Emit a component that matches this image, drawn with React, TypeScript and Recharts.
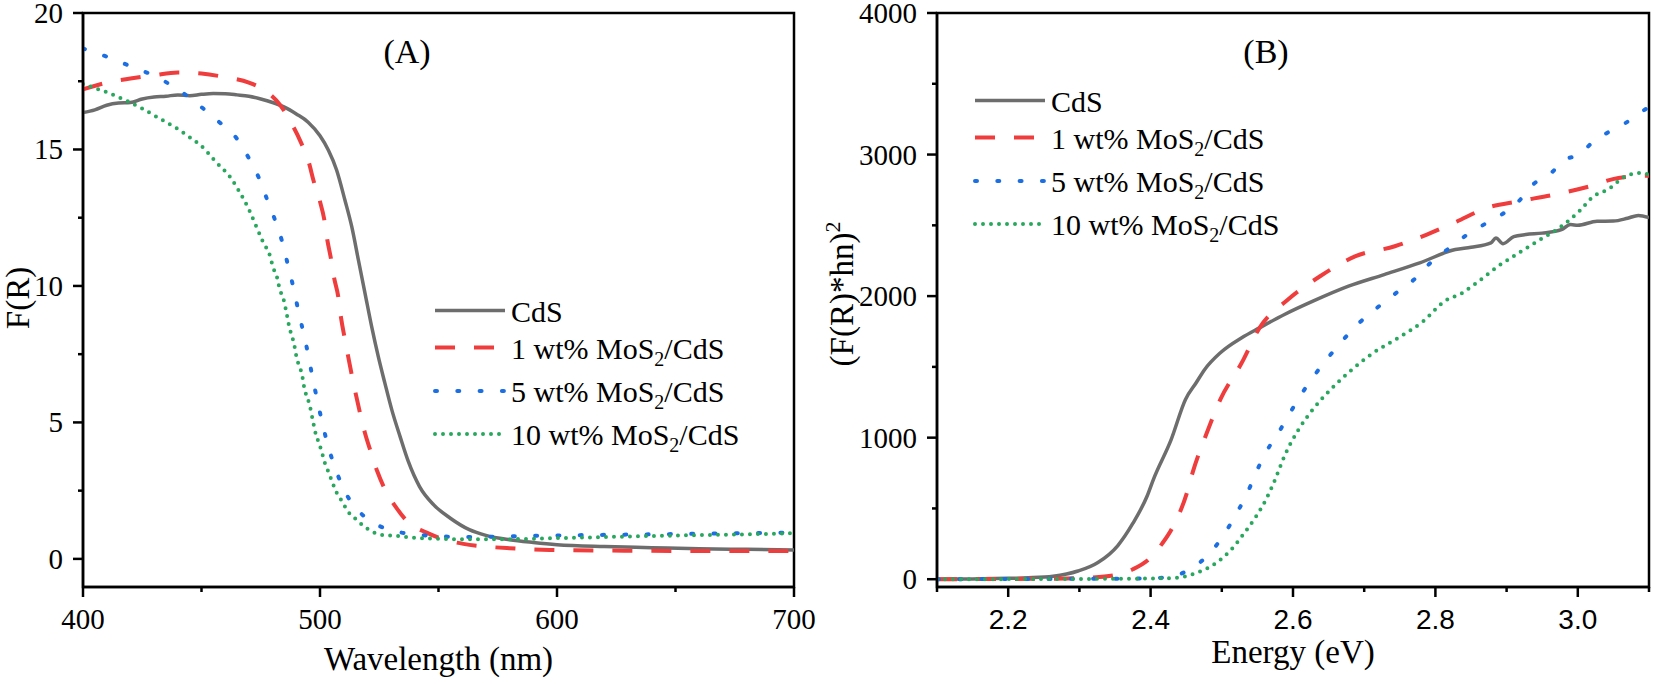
import React from "react";
import { LineChart, Line, XAxis, YAxis, ReferenceArea, Label, Legend } from "recharts";

const SERIF = '"Liberation Serif", "Times New Roman", serif';
const SANS = '"Liberation Sans", Arial, sans-serif';

// ---- (A) F(R) vs wavelength ----
const wlMajor = [400, 500, 600, 700];
const wlMinor = [450, 550, 650];
const frMajor = [0, 5, 10, 15, 20];
const frMinor = [2.5, 7.5, 12.5, 17.5];

const cdsA = [
  [400, 16.35], [405, 16.45], [410, 16.62], [415, 16.7], [420, 16.72], [425, 16.85],
  [430, 16.92], [435, 16.95], [440, 17.0], [445, 16.97], [450, 17.02], [455, 17.05],
  [460, 17.04], [465, 17.0], [470, 16.95], [475, 16.85], [480, 16.72], [485, 16.55],
  [490, 16.3], [495, 16.0], [500, 15.5], [503.5, 14.98], [507, 14.25], [510.5, 13.15],
  [513.4, 12.17], [516.2, 10.95], [519, 9.73], [521.8, 8.51], [524.6, 7.41], [527.4, 6.43],
  [530.3, 5.46], [533.8, 4.48], [537.3, 3.56], [542, 2.65], [548, 1.98], [555, 1.49],
  [563, 1.07], [570, 0.86], [580, 0.7], [590, 0.6], [600, 0.52], [620, 0.45],
  [640, 0.41], [660, 0.37], [680, 0.35], [700, 0.33],
];
const mos1A = [
  [400, 17.2], [410, 17.45], [420, 17.6], [430, 17.72], [440, 17.82], [450, 17.78],
  [460, 17.65], [470, 17.45], [477, 17.15], [483, 16.65], [488, 15.95], [492, 15.25],
  [495.4, 14.49], [497.2, 13.88], [500, 13.09], [501.7, 12.48], [503.1, 11.68], [504.6, 11.01],
  [506, 10.28], [507.7, 9.61], [508.9, 8.82], [510.3, 8.14], [511.9, 7.41], [513.4, 6.74],
  [515.2, 6.0], [516.9, 5.34], [519, 4.6], [521.4, 3.93], [524.2, 3.2], [527.4, 2.55],
  [532.1, 1.89], [537.3, 1.33], [545, 0.96], [550.6, 0.76], [560.5, 0.55], [570, 0.45],
  [580, 0.39], [597, 0.33], [630, 0.3], [660, 0.29], [700, 0.29],
];
const mos5A = [
  [400, 18.7], [410, 18.4], [420, 18.05], [430, 17.7], [440, 17.2], [450, 16.55],
  [457.8, 15.98], [464.8, 15.41], [469.6, 14.74], [474, 14.0], [477.5, 13.21], [481, 12.42],
  [484.1, 11.6], [486.4, 10.79], [488.7, 9.97], [490.8, 9.12], [493, 8.29], [495.1, 7.45],
  [496.9, 6.62], [499, 5.76], [501.1, 4.93], [503.5, 4.11], [506.6, 3.28], [510.5, 2.47],
  [516.6, 1.73], [523.6, 1.27], [532.4, 1.0], [542.2, 0.88], [552, 0.82], [562, 0.8],
  [580, 0.83], [600, 0.86], [620, 0.88], [640, 0.9], [660, 0.92], [680, 0.94], [700, 0.97],
];
const mos10A = [
  [400, 17.4], [405, 17.25], [410, 17.1], [418, 16.8], [425, 16.5], [432, 16.15],
  [440, 15.75], [445, 15.45], [451, 15.04], [456, 14.55], [462, 14.0], [466, 13.45],
  [470, 12.8], [473, 12.2], [476, 11.6], [478.9, 11.1], [480.3, 10.65], [481.7, 10.37],
  [483.1, 9.85], [484.5, 9.55], [485.9, 9.0], [487, 8.51], [488, 8.2], [489, 7.9],
  [490.2, 7.35], [491.3, 7.05], [492.3, 6.8], [493.4, 6.25], [494.4, 5.95], [495.5, 5.68],
  [496.8, 5.15], [498.2, 4.58], [499.3, 4.3], [500.4, 4.02], [502.1, 3.5], [503.5, 3.2],
  [504.6, 2.95], [507, 2.43], [508.9, 2.16], [512.4, 1.67], [515.2, 1.45], [519.7, 1.12],
  [526, 0.88], [532.4, 0.84], [539.4, 0.78], [549.2, 0.74], [559, 0.72], [575, 0.72],
  [600, 0.76], [620, 0.8], [640, 0.84], [660, 0.87], [680, 0.9], [700, 0.94],
];

// ---- (B) (F(R)*hn)^2 vs energy ----
const evMajor = [2.2, 2.4, 2.6, 2.8, 3.0];
const evMinor = [2.1, 2.3, 2.5, 2.7, 2.9, 3.1];
const sqMajor = [0, 1000, 2000, 3000, 4000];
const sqMinor = [500, 1500, 2500, 3500];

const cdsB = [
  [2.1, 0], [2.15, 2], [2.2, 6], [2.228, 10], [2.263, 21], [2.298, 58], [2.326, 118],
  [2.354, 238], [2.375, 394], [2.395, 586], [2.404, 706], [2.429, 988], [2.449, 1270],
  [2.464, 1388], [2.476, 1482], [2.498, 1600], [2.528, 1706], [2.553, 1776], [2.588, 1870],
  [2.628, 1964], [2.678, 2070], [2.728, 2152], [2.778, 2235], [2.828, 2329], [2.85, 2345],
  [2.878, 2376], [2.885, 2410], [2.895, 2370], [2.91, 2420], [2.927, 2435], [2.95, 2445],
  [2.977, 2470], [2.99, 2505], [3.0, 2500], [3.027, 2529], [3.05, 2530], [3.07, 2550],
  [3.085, 2570], [3.1, 2555],
];
const mos1B = [
  [2.1, 0], [2.2, 2], [2.28, 5], [2.312, 10], [2.347, 26], [2.375, 70], [2.395, 130],
  [2.416, 250], [2.43, 358], [2.451, 610], [2.459, 753], [2.479, 1035], [2.498, 1270],
  [2.528, 1529], [2.553, 1776], [2.593, 1976], [2.638, 2140], [2.688, 2282], [2.743, 2352],
  [2.788, 2435], [2.828, 2522], [2.872, 2623], [2.917, 2670], [2.967, 2717], [3.017, 2776],
  [3.057, 2835], [3.1, 2851],
];
const mos5B = [
  [2.1, 0], [2.3, 3], [2.395, 5], [2.43, 21], [2.458, 78], [2.482, 178], [2.503, 315],
  [2.52, 459], [2.536, 610], [2.548, 753], [2.563, 905], [2.581, 1047], [2.596, 1176],
  [2.613, 1317], [2.631, 1447], [2.651, 1576], [2.671, 1694], [2.693, 1811], [2.718, 1917],
  [2.745, 2023], [2.77, 2117], [2.793, 2235], [2.82, 2341], [2.845, 2435], [2.868, 2505],
  [2.893, 2576], [2.917, 2670], [2.937, 2788], [2.96, 2858], [2.982, 2964], [3.002, 2999],
  [3.022, 3093], [3.045, 3164], [3.067, 3223], [3.094, 3317], [3.1, 3335],
];
const mos10B = [
  [2.1, 0], [2.3, 2], [2.4, 5], [2.437, 10], [2.465, 46], [2.493, 118], [2.514, 214],
  [2.531, 322], [2.548, 442], [2.562, 562], [2.575, 706], [2.588, 870], [2.608, 1059],
  [2.628, 1200], [2.653, 1341], [2.683, 1482], [2.713, 1600], [2.748, 1706], [2.783, 1823],
  [2.813, 1964], [2.838, 2023], [2.858, 2094], [2.888, 2211], [2.917, 2305], [2.947, 2399],
  [2.977, 2493], [3.002, 2599], [3.022, 2705], [3.042, 2752], [3.067, 2846], [3.087, 2870],
  [3.1, 2858],
];

const seriesNames = ["CdS", "1 wt% MoS2/CdS", "5 wt% MoS2/CdS", "10 wt% MoS2/CdS"];

const lineStyles = [
  { stroke: "#6d6d6d", width: 3.5, dash: undefined, cap: "butt" },
  { stroke: "#ef3d3d", width: 4, dash: "20 19", cap: "butt" },
  { stroke: "#1c6fe3", width: 4, dash: "2 20.3", cap: "round" },
  { stroke: "#2aa75e", width: 4, dash: "0 8", cap: "round" },
];

const toPts = (rows: number[][]) => rows.map(([x, y]) => ({ x, y }));
const isMajor = (majors: number[], v: number) => majors.some((m) => Math.abs(m - v) < 1e-6);

// chemical formula with subscript 2
function renderName(name: string, subSize: number) {
  const i = name.indexOf("MoS2");
  if (i < 0) return name;
  return (
    <>
      {name.slice(0, i + 3)}
      <tspan fontSize={subSize} dy={7}>2</tspan>
      <tspan dy={-7}>{name.slice(i + 4)}</tspan>
    </>
  );
}

function makeXTick(majors: number[], fmt: (v: number) => string, font: string, size: number) {
  return (props: any) => {
    const { x, y, payload } = props;
    const major = isMajor(majors, payload.value);
    return (
      <g>
        <line x1={x} x2={x} y1={y} y2={y + (major ? 10 : 5)} stroke="#000" strokeWidth={2.5} />
        {major && (
          <text x={x} y={y + 42} textAnchor="middle" fontFamily={font} fontSize={size} fill="#000">
            {fmt(payload.value)}
          </text>
        )}
      </g>
    );
  };
}

function makeYTick(majors: number[]) {
  return (props: any) => {
    const { x, y, payload } = props;
    const major = isMajor(majors, payload.value);
    return (
      <g>
        <line x1={x} x2={x - (major ? 10 : 5)} y1={y} y2={y} stroke="#000" strokeWidth={2.5} />
        {major && (
          <text x={x - 20} y={y + 10} textAnchor="end" fontFamily={SERIF} fontSize={29} fill="#000">
            {payload.value}
          </text>
        )}
      </g>
    );
  };
}

function makeLegend(lineX: number) {
  const rows = [30.5, 67.5, 111, 154];
  return () => (
    <svg width={400} height={190} style={{ overflow: "visible" }}>
      {seriesNames.map((name, i) => {
        const s = lineStyles[i];
        return (
          <g key={name}>
            <line
              x1={lineX}
              x2={lineX + 70}
              y1={rows[i]}
              y2={rows[i]}
              stroke={s.stroke}
              strokeWidth={s.width}
              strokeDasharray={s.dash}
              strokeLinecap={s.cap as any}
            />
            <text x={lineX + 76} y={rows[i] + 11} fontFamily={SERIF} fontSize={30} fill="#000">
              {renderName(name, 20)}
            </text>
          </g>
        );
      })}
    </svg>
  );
}

function seriesLines(sets: number[][][]) {
  return sets.map((rows, i) => {
    const s = lineStyles[i];
    return (
      <Line
        key={seriesNames[i]}
        data={toPts(rows)}
        dataKey="y"
        name={seriesNames[i]}
        type="monotone"
        stroke={s.stroke}
        strokeWidth={s.width}
        strokeDasharray={s.dash}
        strokeLinecap={s.cap as any}
        dot={false}
        activeDot={false}
        isAnimationActive={false}
      />
    );
  });
}

function PanelA() {
  return (
    <LineChart width={830} height={684} margin={{ top: 13, right: 36, left: 0, bottom: 0 }}>
      <XAxis
        type="number"
        dataKey="x"
        domain={[400, 700]}
        ticks={[...wlMajor, ...wlMinor].sort((a, b) => a - b)}
        interval={0}
        allowDataOverflow
        height={97}
        tickSize={0}
        tickMargin={0}
        tickLine={false}
        axisLine={{ stroke: "#000", strokeWidth: 2.5 }}
        tick={makeXTick(wlMajor, (v) => String(v), SERIF, 29)}
      >
        <Label
          content={(p: any) => (
            <text x={p.viewBox.x + p.viewBox.width / 2} y={p.viewBox.y + 83} textAnchor="middle" fontFamily={SERIF} fontSize={33} fill="#000">
              Wavelength (nm)
            </text>
          )}
        />
      </XAxis>
      <YAxis
        type="number"
        domain={[-1.03, 20]}
        ticks={[...frMajor, ...frMinor].sort((a, b) => a - b)}
        interval={0}
        allowDataOverflow
        width={83}
        tickSize={0}
        tickMargin={0}
        tickLine={false}
        axisLine={{ stroke: "#000", strokeWidth: 2.5 }}
        tick={makeYTick(frMajor)}
      >
        <Label
          content={() => (
            <text x={29} y={298} transform="rotate(-90 29 298)" textAnchor="middle" fontFamily={SERIF} fontSize={33} fill="#000">
              F(R)
            </text>
          )}
        />
      </YAxis>
      <ReferenceArea x1={400} x2={700} y1={-1.03} y2={20} fill="none" stroke="#000" strokeWidth={2.5} ifOverflow="visible">
        <Label
          content={(p: any) => (
            <text x={p.viewBox.x + 324} y={p.viewBox.y + 50} textAnchor="middle" fontFamily={SERIF} fontSize={34} fill="#000">
              (A)
            </text>
          )}
        />
      </ReferenceArea>
      {seriesLines([cdsA, mos1A, mos5A, mos10A])}
      <Legend
        layout="vertical"
        align="center"
        verticalAlign="middle"
        wrapperStyle={{ left: 420, top: 280, width: 400, height: 190 }}
        content={makeLegend(15)}
      />
    </LineChart>
  );
}

function PanelB() {
  return (
    <LineChart width={864} height={684} margin={{ top: 13, right: 5, left: 0, bottom: 0 }}>
      <XAxis
        type="number"
        dataKey="x"
        domain={[2.1, 3.1]}
        ticks={[...evMajor, ...evMinor].sort((a, b) => a - b)}
        interval={0}
        allowDataOverflow
        height={97}
        tickSize={0}
        tickMargin={0}
        tickLine={false}
        axisLine={{ stroke: "#000", strokeWidth: 2.5 }}
        tick={makeXTick(evMajor, (v) => v.toFixed(1), SANS, 28)}
      >
        <Label
          content={(p: any) => (
            <text x={p.viewBox.x + p.viewBox.width / 2} y={p.viewBox.y + 76} textAnchor="middle" fontFamily={SERIF} fontSize={33} fill="#000">
              Energy (eV)
            </text>
          )}
        />
      </XAxis>
      <YAxis
        type="number"
        domain={[-55, 4000]}
        ticks={[...sqMajor, ...sqMinor].sort((a, b) => a - b)}
        interval={0}
        allowDataOverflow
        width={147}
        tickSize={0}
        tickMargin={0}
        tickLine={false}
        axisLine={{ stroke: "#000", strokeWidth: 2.5 }}
        tick={makeYTick(sqMajor)}
      >
        <Label
          content={() => (
            <text x={63} y={294} transform="rotate(-90 63 294)" textAnchor="middle" fontFamily={SERIF} fontSize={33} fill="#000">
              (F(R)*hn)
              <tspan fontSize={22} dy={-13}>2</tspan>
            </text>
          )}
        />
      </YAxis>
      <ReferenceArea x1={2.1} x2={3.1} y1={-55} y2={4000} fill="none" stroke="#000" strokeWidth={2.5} ifOverflow="visible">
        <Label
          content={(p: any) => (
            <text x={p.viewBox.x + 329} y={p.viewBox.y + 50} textAnchor="middle" fontFamily={SERIF} fontSize={34} fill="#000">
              (B)
            </text>
          )}
        />
      </ReferenceArea>
      {seriesLines([cdsB, mos1B, mos5B, mos10B])}
      <Legend
        layout="vertical"
        align="center"
        verticalAlign="middle"
        wrapperStyle={{ left: 170, top: 70, width: 400, height: 190 }}
        content={makeLegend(15)}
      />
    </LineChart>
  );
}

export default function App() {
  return (
    <div style={{ position: "absolute", left: 0, top: 0, width: 1654, height: 684, background: "#fff" }}>
      <div style={{ position: "absolute", left: 0, top: 0 }}>
        <PanelA />
      </div>
      <div style={{ position: "absolute", left: 790, top: 0 }}>
        <PanelB />
      </div>
    </div>
  );
}
